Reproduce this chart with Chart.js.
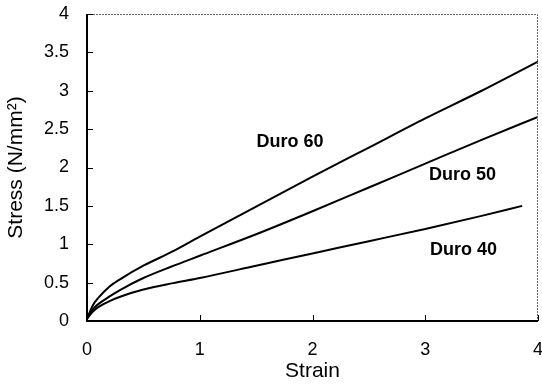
<!DOCTYPE html>
<html>
<head>
<meta charset="utf-8">
<script src="https://cdn.jsdelivr.net/npm/chart.js@4"></script>
<style>
html,body{margin:0;padding:0;background:#fff;}
#wrap{width:542px;height:384px;}
</style>
</head>
<body>
<div id="wrap"><canvas id="chart" width="542" height="384"></canvas></div>
<script>
// stress-strain curves for three rubber hardnesses
const strain60 = [0,0.05,0.1,0.2,0.3,0.5,0.75,1,1.5,2,2.5,3,3.5,4];
const duro60   = [0.03,0.2,0.3,0.45,0.55,0.72,0.9,1.1,1.49,1.88,2.26,2.64,3.0,3.38];
const strain50 = [0,0.05,0.1,0.2,0.3,0.5,0.75,1,1.5,2,2.5,3,3.5,4];
const duro50   = [0.03,0.15,0.22,0.32,0.41,0.56,0.71,0.85,1.13,1.43,1.74,2.05,2.36,2.66];
const strain40 = [0,0.05,0.1,0.2,0.3,0.5,0.75,1,1.5,2,2.5,3,3.5,3.86];
const duro40   = [0.03,0.12,0.18,0.26,0.32,0.41,0.49,0.56,0.72,0.88,1.04,1.2,1.37,1.5];

const xTicks = [0,1,2,3,4];
const yTicks = [0,0.5,1,1.5,2,2.5,3,3.5,4];

const curveLabels = [
  {text:"Duro 60", x:1.8, y:2.33},
  {text:"Duro 50", x:3.33, y:1.9},
  {text:"Duro 40", x:3.34, y:0.93}
];

function pts(xs, ys){ return xs.map((x,i)=>({x:x, y:ys[i]})); }

const font = "'Liberation Sans', Arial, sans-serif";

// inward tick marks, dotted top/right frame and curve names
const decor = {
  id:"decor",
  afterDraw(chart){
    const ctx = chart.ctx, a = chart.chartArea;
    const xs = chart.scales.x, ys = chart.scales.y;
    ctx.save();
    ctx.strokeStyle = "#666";
    ctx.lineWidth = 1;
    ctx.setLineDash([2,1]);
    ctx.beginPath();
    ctx.moveTo(a.left, a.top+0.5); ctx.lineTo(a.right-0.5, a.top+0.5); ctx.lineTo(a.right-0.5, a.bottom);
    ctx.stroke();
    ctx.setLineDash([]);
    ctx.strokeStyle = "#000";
    ctx.lineWidth = 2;
    ctx.beginPath();
    ctx.moveTo(a.left, a.top); ctx.lineTo(a.left, a.bottom); ctx.lineTo(a.right, a.bottom);
    ctx.stroke();
    ctx.lineWidth = 1;
    ctx.beginPath();
    yTicks.forEach(v=>{ const p = Math.round(ys.getPixelForValue(v))+0.5; ctx.moveTo(a.left, p); ctx.lineTo(a.left+6, p); });
    xTicks.forEach(v=>{ const p = Math.round(xs.getPixelForValue(v))+0.5; ctx.moveTo(p, a.bottom); ctx.lineTo(p, a.bottom-6); });
    ctx.stroke();
    ctx.fillStyle = "#000";
    ctx.font = "bold 18px " + font;
    ctx.textAlign = "center";
    ctx.textBaseline = "middle";
    curveLabels.forEach(l=>{ ctx.fillText(l.text, xs.getPixelForValue(l.x), ys.getPixelForValue(l.y)); });
    ctx.restore();
  }
};

const lineStyle = {borderColor:"#000", borderWidth:2, pointRadius:0, tension:0.4, cubicInterpolationMode:"monotone", fill:false};

new Chart(document.getElementById("chart"),{
  type:"scatter",
  data:{
    datasets:[
      Object.assign({label:"Duro 60", data:pts(strain60, duro60), showLine:true}, lineStyle),
      Object.assign({label:"Duro 50", data:pts(strain50, duro50), showLine:true}, lineStyle),
      Object.assign({label:"Duro 40", data:pts(strain40, duro40), showLine:true}, lineStyle)
    ]
  },
  options:{
    responsive:false,
    animation:false,
    layout:{padding:{top:14, right:4, left:0, bottom:0}},
    plugins:{legend:{display:false}, tooltip:{enabled:false}},
    scales:{
      x:{
        type:"linear", min:0, max:4,
        afterBuildTicks(s){ s.ticks = xTicks.map(v=>({value:v})); },
        afterFit(s){ s.height = 63; s.paddingLeft = 0; s.paddingRight = 0; },
        grid:{display:false, drawTicks:false},
        border:{display:false},
        ticks:{color:"#000", padding:18, font:{family:font, size:18}, maxRotation:0, callback:v=>String(v)},
        title:{display:true, text:"Strain", color:"#000", padding:{top:0, bottom:0}, font:{family:font, size:21}}
      },
      y:{
        type:"linear", min:0, max:4,
        afterBuildTicks(s){ s.ticks = yTicks.map(v=>({value:v})); },
        afterFit(s){ s.width = 87; s.paddingTop = 0; s.paddingBottom = 0; },
        grid:{display:false, drawTicks:false},
        border:{display:false},
        ticks:{color:"#000", padding:18, font:{family:font, size:18}, callback:v=>String(v)},
        title:{display:true, text:"Stress (N/mm²)", color:"#000", padding:{top:4, bottom:0}, font:{family:font, size:21}}
      }
    }
  },
  plugins:[decor]
});
</script>
</body>
</html>
